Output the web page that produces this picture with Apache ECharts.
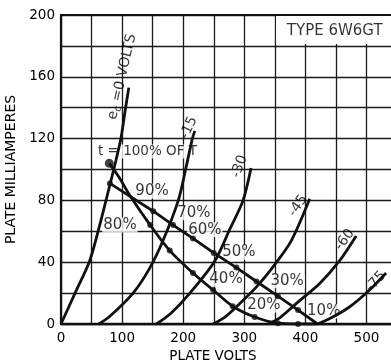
<!DOCTYPE html>
<html>
<head>
<meta charset="utf-8">
<style>
  html, body { margin: 0; padding: 0; background: #fff; }
  #chart { width: 391px; height: 360px; }
</style>
</head>
<body>
<div id="chart"></div>
<script src="https://cdn.jsdelivr.net/npm/echarts@6/dist/echarts.min.js"></script>
<script>
// plate characteristics, [plate volts, plate mA]
const ec0 = [[0, 0], [23, 20], [47, 41], [64, 65], [80, 90], [90, 106], [98, 120], [105, 138], [111, 153]];
const ec15 = [[62, 0], [80, 5], [118, 20], [145, 36], [167, 54], [192, 80], [205, 102], [215, 120], [219, 125]];
const ec30 = [[156, 0], [180, 7], [211, 20], [252, 41], [277, 62], [298, 80], [311, 101]];
const ec45 = [[249, 0], [270, 5], [292, 13], [320, 24], [347, 37], [377, 54], [407, 81]];
const ec60 = [[338, 0], [358, 4], [390, 15], [423, 26], [456, 41], [483, 57]];
const ec75 = [[420, 0], [440, 3.5], [472, 11], [505, 22], [532, 33]];

// the two dotted operating lines
const lineA = [[79, 104], [95, 95], [113, 83], [146, 64], [178, 47.5], [216, 33], [249, 22], [281, 11.5], [317, 4.5], [355, 0.5], [388, 0], [420, 0]];
const lineB = [[80, 91], [151, 73], [183.5, 64], [216, 55.4], [250, 46], [287, 36.5], [320, 27.5], [355, 18], [388, 9], [420, 0]];
const dotsA = [[146, 64], [178, 47.5], [216, 33], [249, 22], [281, 11.5], [317, 4.5], [355, 0.5], [388, 0]];
const dotsB = [[80, 91], [151, 73], [183.5, 64], [216, 55.4], [250, 46], [287, 36.5], [320, 27.5], [355, 18], [388, 9]];
const startDot = [[79, 104]];

const xTicks = [0, 100, 200, 300, 400, 500];
const yTicks = [0, 40, 80, 120, 160, 200];

// text on the sheet: [text, volts, mA, rotation]
const curveNotes = [
  ['{a|e}{b|c}{a| =0 VOLTS}', 100, 160, 77],
  ['-15', 209.5, 127, 65],
  ['-30', 292, 102, 70],
  ['-45', 388, 76.5, 55],
  ['-60', 464.5, 54.5, 53],
  ['-75', 515.5, 27.5, 47]
];
const pctNotes = [
  ['t = 100% OF T', 141.5, 111.6],
  ['90%', 149, 86],
  ['80%', 96.5, 64],
  ['70%', 217.5, 72],
  ['60%', 235.5, 61],
  ['50%', 291, 46.5],
  ['40%', 270, 29],
  ['30%', 370, 28],
  ['20%', 332, 12.3],
  ['10%', 430, 8.4]
];
const typeNote = ['TYPE 6W6GT', 448, 189.6];

const font = 'DejaVu Sans';
const ink = '#111';
const chart = echarts.init(document.getElementById('chart'));

const curveSeries = [ec0, ec15, ec30, ec45, ec60, ec75].map(d => ({
  type: 'line', data: d, smooth: 0.3, showSymbol: false, z: 2, silent: true,
  lineStyle: { color: ink, width: 2.8 }
}));

const noteData = [];
curveNotes.forEach(n => noteData.push({
  value: [n[1], n[2]],
  label: {
    show: true, position: 'inside', formatter: n[0], rotate: n[3],
    fontFamily: font, fontSize: 14, color: '#000',
    rich: {
      a: { fontFamily: font, fontSize: 14, color: '#000' },
      b: { fontFamily: font, fontSize: 10, color: '#000', padding: [7, 0, 0, 0] }
    }
  }
}));
pctNotes.forEach((n, i) => noteData.push({
  value: [n[1], n[2]],
  label: {
    show: true, position: 'inside', formatter: n[0],
    fontFamily: font, fontSize: i === 0 ? 13.5 : 15, color: '#000',
    backgroundColor: '#fff', padding: [0, 1]
  }
}));
noteData.push({
  value: [typeNote[1], typeNote[2]],
  label: { show: true, position: 'inside', formatter: typeNote[0], fontFamily: font, fontSize: 15, color: '#000' }
});

const option = {
  backgroundColor: '#fff',
  animation: false,
  grid: { left: 61, right: -3, top: 15, bottom: 36, outerBoundsMode: 'none' },
  xAxis: [{
    type: 'value', min: 0, max: 545, interval: 50,
    name: 'PLATE VOLTS', nameLocation: 'middle', nameGap: 23,
    nameTextStyle: { fontFamily: font, fontSize: 13.5, color: '#000', padding: [0, 29, 0, 0] },
    axisLine: { onZero: false, lineStyle: { color: ink, width: 2.4 } },
    axisTick: { show: false },
    axisLabel: {
      margin: 7, fontFamily: font, fontSize: 13.5, color: '#000',
      formatter: v => (xTicks.includes(v) ? String(v) : '')
    },
    splitLine: { lineStyle: { color: '#1a1a1a', width: 1.3 } }
  }, {
    type: 'value', position: 'top', min: 0, max: 545, z: 5,
    axisLine: { show: true, onZero: false, lineStyle: { color: ink, width: 2.2 } },
    axisTick: { show: false }, axisLabel: { show: false }, splitLine: { show: false }
  }],
  yAxis: {
    type: 'value', min: 0, max: 200, interval: 20,
    name: 'PLATE MILLIAMPERES', nameLocation: 'middle', nameGap: 33,
    nameTextStyle: { fontFamily: font, fontSize: 14, color: '#000' },
    axisLine: { show: true, onZero: false, lineStyle: { color: ink, width: 2.2 } },
    axisTick: { show: false },
    axisLabel: {
      margin: 6, fontFamily: font, fontSize: 13.5, color: '#000',
      formatter: v => (yTicks.includes(v) ? String(v) : '')
    },
    splitLine: { lineStyle: { color: '#1a1a1a', width: 1.3 } }
  },
  series: [
    {
      type: 'scatter', z: 1, silent: true, symbolSize: 1,
      itemStyle: { color: 'rgba(0,0,0,0)' },
      data: noteData,
      markArea: {
        silent: true, itemStyle: { color: '#fff' },
        data: [[{ coord: [352, 181.3] }, { coord: [545, 199.3] }]]
      }
    },
    ...curveSeries,
    {
      type: 'line', data: lineA, smooth: 0.3, showSymbol: false, z: 2, silent: true,
      lineStyle: { color: ink, width: 2.8 }
    },
    {
      type: 'line', data: lineB, showSymbol: false, z: 2, silent: true,
      lineStyle: { color: ink, width: 2.8 }
    },
    { type: 'scatter', data: dotsA.concat(dotsB), symbolSize: 6, z: 3, silent: true, itemStyle: { color: ink } },
    { type: 'scatter', data: startDot, symbolSize: 9, z: 3, silent: true, itemStyle: { color: ink } }
  ]
};

chart.setOption(option);
</script>
</body>
</html>
